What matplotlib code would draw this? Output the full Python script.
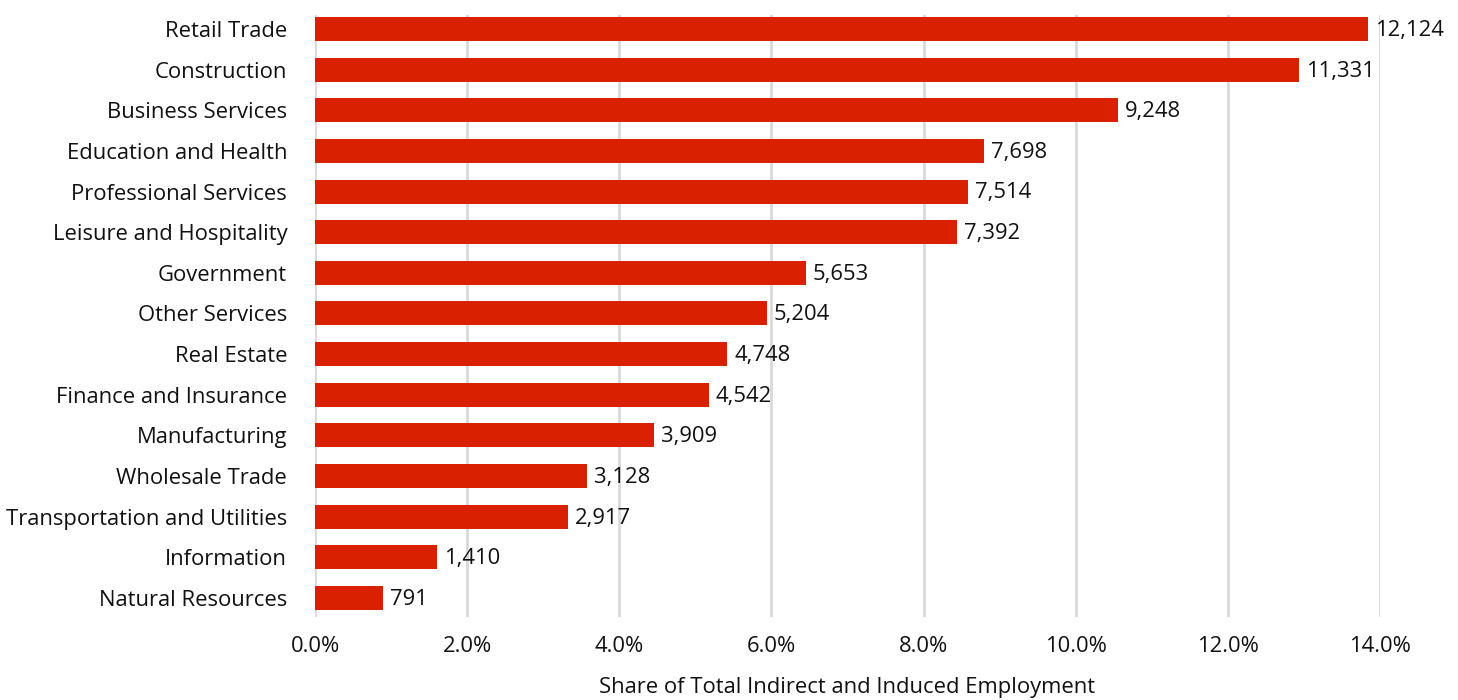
import matplotlib
matplotlib.use("Agg")
import matplotlib.pyplot as plt
from matplotlib.ticker import FuncFormatter, MultipleLocator

categories = ["Retail Trade", "Construction", "Business Services", "Education and Health",
              "Professional Services", "Leisure and Hospitality", "Government", "Other Services",
              "Real Estate", "Finance and Insurance", "Manufacturing", "Wholesale Trade",
              "Transportation and Utilities", "Information", "Natural Resources"]
shares = [13.84, 12.93, 10.56, 8.79, 8.58, 8.44, 6.45, 5.94, 5.42, 5.18, 4.46, 3.57, 3.33, 1.61, 0.90]
counts = [12124, 11331, 9248, 7698, 7514, 7392, 5653, 5204, 4748, 4542, 3909, 3128, 2917, 1410, 791]

plt.rcParams['font.family'] = ['Open Sans', 'DejaVu Sans']
FS = 15.8
fig = plt.figure(figsize=(14.58, 7.0), dpi=100)
ax = fig.add_axes([315/1458, 1-617/700, (1380-315)/1458, (617-15)/700])

n = len(categories)
ypos = [n - 1 - i for i in range(n)]
ax.barh(ypos, shares, height=0.59, color="#D92000", zorder=3)
for y, s, c in zip(ypos, shares, counts):
    ax.annotate(f"{c:,}", (s, y), xytext=(5, -1), textcoords="offset points",
                va="center", ha="left", fontsize=FS, color="#111111", zorder=4)

ax.set_xlim(0, 14)
ax.set_ylim(-0.47, n - 1 + 0.344)
ax.set_yticks(ypos)
ax.set_yticklabels(categories, fontsize=FS, color="#111111")
ax.xaxis.set_major_locator(MultipleLocator(2))
ax.xaxis.set_major_formatter(FuncFormatter(lambda v, p: f"{v:.1f}%"))
ax.tick_params(axis="x", labelsize=FS, colors="#111111", length=0, pad=14)
ax.tick_params(axis="y", length=0, pad=20)
ax.grid(axis="x", color="#D9D9D9", linewidth=2, zorder=0)
for sp in ax.spines.values():
    sp.set_visible(False)
ax.set_xlabel("Share of Total Indirect and Induced Employment", fontsize=FS, color="#111111", labelpad=14)

fig.savefig("out.png", dpi=100)
